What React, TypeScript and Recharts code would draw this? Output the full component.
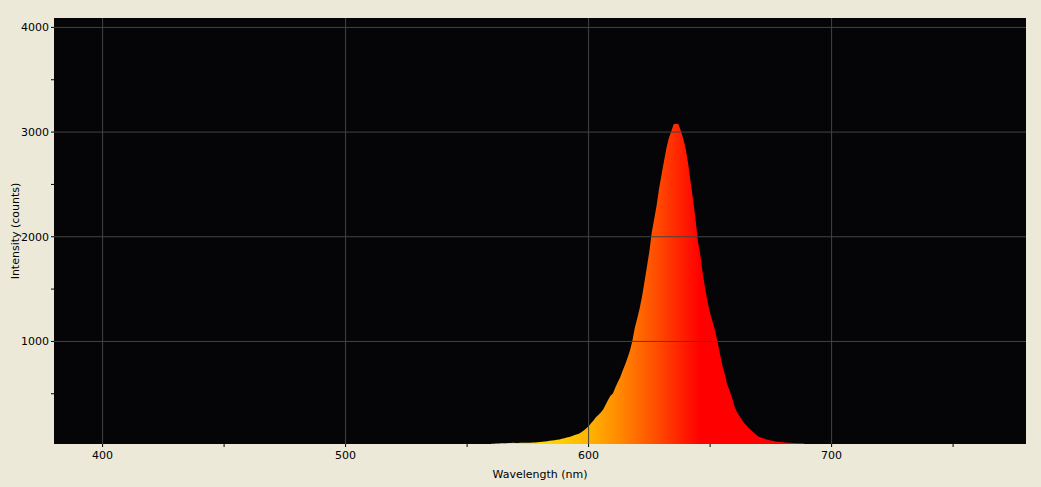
import { Area, AreaChart, ReferenceLine, XAxis, YAxis } from "recharts";

// spectrum readings, one per nm starting at 560 nm
const startNm = 560;
const counts = [
  22, 23, 24, 25, 26, 27, 28, 29, 30, 31,
  30, 30, 31, 31, 32, 32, 33, 34, 35, 37,
  38, 41, 44, 47, 51, 54, 57, 60, 64, 69,
  75, 81, 88, 95, 103, 111, 119, 132, 148, 168,
  190, 218, 245, 275, 298, 322, 350, 395, 440, 480,
  503, 560, 610, 657, 720, 777, 842, 910, 1005, 1128,
  1220, 1315, 1430, 1569, 1713, 1860, 2043, 2170, 2300, 2460,
  2590, 2720, 2843, 2940, 3005, 3075, 3080, 3075, 3010, 2935,
  2835, 2695, 2520, 2355, 2170, 1955, 1820, 1645, 1500, 1375,
  1270, 1190, 1110, 1005, 890, 775, 690, 592, 530, 465,
  380, 328, 290, 255, 220, 196, 170, 150, 128, 108,
  89, 81, 73, 65, 58, 53, 49, 45, 42, 40,
  37, 35, 33, 31, 30, 29, 28, 27, 26, 22,
];
const wavelengths = counts.map((_, i) => startNm + i);

const xTicks = [400, 450, 500, 550, 600, 650, 700, 750];
const xMajor = [400, 500, 600, 700];
const yTicks = [500, 1000, 1500, 2000, 2500, 3000, 3500, 4000];
const yMajor = [1000, 2000, 3000, 4000];

// colour of the light at each wavelength
const colourStops = [
  { nm: 560, color: "#FFF000" },
  { nm: 575, color: "#FFE200" },
  { nm: 590, color: "#FFCA00" },
  { nm: 600, color: "#FFB400" },
  { nm: 613, color: "#FF8800" },
  { nm: 627, color: "#FF5000" },
  { nm: 641, color: "#FF1400" },
  { nm: 646, color: "#FF0000" },
  { nm: 689, color: "#FF0000" },
];

const data = wavelengths.map((nm, i) => ({ nm, counts: counts[i] }));

const font = { fontFamily: "DejaVu Sans", fontSize: 11, fill: "#000" };

export default function App() {
  const first = wavelengths[0];
  const last = wavelengths[wavelengths.length - 1];

  return (
    <div style={{ position: "absolute", left: 0, top: 0, width: 1041, height: 487, background: "#ECE9D8" }}>
      <AreaChart width={1041} height={487} data={data} margin={{ top: 18, right: 15, bottom: 0, left: 0 }}>
        <defs>
          <linearGradient id="spec" x1="0" y1="0" x2="1" y2="0">
            {colourStops.map((s) => (
              <stop key={s.nm} offset={(s.nm - first) / (last - first)} stopColor={s.color} />
            ))}
          </linearGradient>
        </defs>
        <rect x={54} y={18} width={972} height={426} fill="#050407" />
        <XAxis
          dataKey="nm"
          type="number"
          domain={[380, 780]}
          allowDataOverflow
          ticks={xTicks}
          tickFormatter={(v) => (xMajor.includes(v) ? String(v) : "")}
          axisLine={false}
          tickLine={{ stroke: "#000" }}
          tickSize={3}
          tickMargin={4}
          height={43}
          tick={font}
          label={{ value: "Wavelength (nm)", position: "insideBottom", offset: 9, style: font }}
        />
        <YAxis
          type="number"
          domain={[20, 4090]}
          allowDataOverflow
          ticks={yTicks}
          tickFormatter={(v) => (yMajor.includes(v) ? String(v) : "")}
          axisLine={false}
          tickLine={{ stroke: "#000" }}
          tickSize={3}
          tickMargin={2}
          width={54}
          tick={font}
          label={{ value: "Intensity (counts)", angle: -90, position: "insideLeft", offset: 15, style: { ...font, textAnchor: "middle" } }}
        />
        <Area
          type="linear"
          dataKey="counts"
          stroke="none"
          fill="url(#spec)"
          fillOpacity={1}
          isAnimationActive={false}
        />
        {xMajor.map((v) => (
          <ReferenceLine key={"x" + v} x={v} stroke="#444" strokeWidth={1} />
        ))}
        {yMajor.map((v) => (
          <ReferenceLine key={"y" + v} y={v} stroke="#444" strokeWidth={1} />
        ))}
      </AreaChart>
    </div>
  );
}
